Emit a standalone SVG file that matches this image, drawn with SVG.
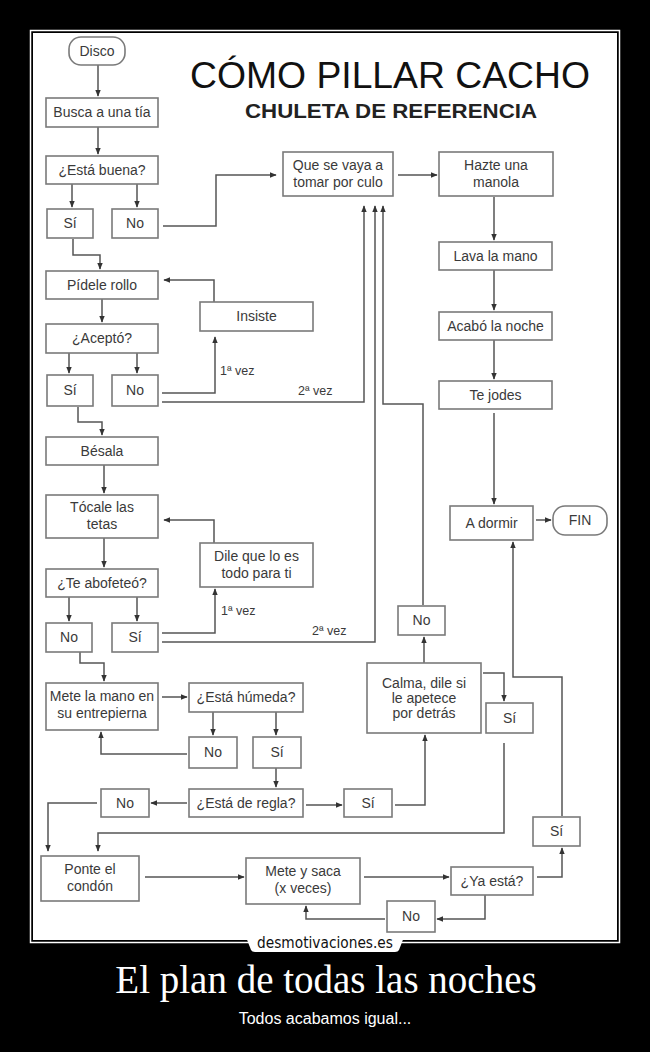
<svg xmlns="http://www.w3.org/2000/svg" width="650" height="1052" viewBox="0 0 650 1052">
<defs>
<style>
.box{fill:#fff;stroke:#7a7a7a;stroke-width:1.6}
.t{font-family:"Liberation Sans",Arial,sans-serif;font-size:14px;fill:#3a3a3a;text-anchor:middle}
.lb{font-family:"Liberation Sans",Arial,sans-serif;font-size:12.5px;fill:#3a3a3a}
.c{fill:none;stroke:#555;stroke-width:1.5}
</style>
<marker id="a" viewBox="0 0 10 10" refX="9" refY="5" markerWidth="7" markerHeight="7" orient="auto" markerUnits="userSpaceOnUse">
<path d="M0,1 L10,5 L0,9 z" fill="#333"/>
</marker>
</defs>
<rect x="0" y="0" width="650" height="1052" fill="#000"/>
<rect x="30.5" y="30.5" width="589" height="912" fill="none" stroke="#fff" stroke-width="1.5"/>
<rect x="33" y="33" width="584" height="907" fill="#fff"/>
<g id="title">
<text x="190" y="88" font-family="Liberation Sans, Arial, sans-serif" font-size="36" fill="#111" textLength="400" lengthAdjust="spacingAndGlyphs">CÓMO PILLAR CACHO</text>
<text x="245" y="118" font-family="Liberation Sans, Arial, sans-serif" font-size="20" font-weight="bold" fill="#222" textLength="292" lengthAdjust="spacingAndGlyphs">CHULETA DE REFERENCIA</text>
</g>
<g id="connectors">
<path class="c" marker-end="url(#a)" d="M98,65 V96"/>
<path class="c" marker-end="url(#a)" d="M98,127 V154"/>
<path class="c" marker-end="url(#a)" d="M72,184 V207"/>
<path class="c" marker-end="url(#a)" d="M137,184 V207"/>
<path class="c" marker-end="url(#a)" d="M163,226 H216 V175 H276"/>
<path class="c" marker-end="url(#a)" d="M73,239 V255 H100 V269"/>
<path class="c" marker-end="url(#a)" d="M102,299 V322"/>
<path class="c" marker-end="url(#a)" d="M214,302 V280 H164"/>
<path class="c" marker-end="url(#a)" d="M69,353 V373"/>
<path class="c" marker-end="url(#a)" d="M137,353 V373"/>
<path class="c" marker-end="url(#a)" d="M162,393 H215 V337"/>
<path class="c" marker-end="url(#a)" d="M162,402 H364 V206"/>
<path class="c" marker-end="url(#a)" d="M78,407 V422 H102 V435"/>
<path class="c" marker-end="url(#a)" d="M104,465 V493"/>
<path class="c" marker-end="url(#a)" d="M214,543 V520 H164"/>
<path class="c" marker-end="url(#a)" d="M104,538 V567"/>
<path class="c" marker-end="url(#a)" d="M69,597 V621"/>
<path class="c" marker-end="url(#a)" d="M137,597 V621"/>
<path class="c" marker-end="url(#a)" d="M162,633 H215 V589"/>
<path class="c" marker-end="url(#a)" d="M162,642 H375 V206"/>
<path class="c" marker-end="url(#a)" d="M80,652 V663 H104 V681"/>
<path class="c" marker-end="url(#a)" d="M162,697 H187"/>
<path class="c" marker-end="url(#a)" d="M213,712 V735"/>
<path class="c" marker-end="url(#a)" d="M276,712 V735"/>
<path class="c" marker-end="url(#a)" d="M187,754 H101 V732"/>
<path class="c" marker-end="url(#a)" d="M276,768 V787"/>
<path class="c" marker-end="url(#a)" d="M187,803 H151"/>
<path class="c" marker-end="url(#a)" d="M97,803 H48 V851"/>
<path class="c" marker-end="url(#a)" d="M306,805 H342"/>
<path class="c" marker-end="url(#a)" d="M395,805 H425 V735"/>
<path class="c" marker-end="url(#a)" d="M424,663 V637"/>
<path class="c" marker-end="url(#a)" d="M423,605 V404 H383 V206"/>
<path class="c" marker-end="url(#a)" d="M483,673 H504 V701"/>
<path class="c" marker-end="url(#a)" d="M504,743 V833 H98 V851"/>
<path class="c" marker-end="url(#a)" d="M145,877 H244"/>
<path class="c" marker-end="url(#a)" d="M364,877 H449"/>
<path class="c" marker-end="url(#a)" d="M537,877 H562 V848"/>
<path class="c" marker-end="url(#a)" d="M562,816 V677 H513 V542"/>
<path class="c" marker-end="url(#a)" d="M494,413 V504"/>
<path class="c" marker-end="url(#a)" d="M536,520 H551"/>
<path class="c" marker-end="url(#a)" d="M485,895 V919 H437"/>
<path class="c" marker-end="url(#a)" d="M385,919 H306 V906"/>
<path class="c" marker-end="url(#a)" d="M398,175 H437"/>
<path class="c" marker-end="url(#a)" d="M494,197 V240"/>
<path class="c" marker-end="url(#a)" d="M494,270 V310"/>
<path class="c" marker-end="url(#a)" d="M494,340 V379"/>
</g>
<g id="labels">
<text class="lb" x="220" y="375">1ª vez</text>
<text class="lb" x="298" y="395">2ª vez</text>
<text class="lb" x="221" y="615">1ª vez</text>
<text class="lb" x="312" y="635">2ª vez</text>
</g>
<g id="disco"><rect class="box" x="69" y="37" width="56" height="28" rx="12"/><text class="t" x="97" y="56">Disco</text></g>
<g id="busca"><rect class="box" x="46" y="98" width="112" height="29"/><text class="t" x="102" y="117">Busca a una tía</text></g>
<g id="esta-buena"><rect class="box" x="46" y="156" width="112" height="28"/><text class="t" x="102" y="175">¿Está buena?</text></g>
<g id="si1"><rect class="box" x="47" y="209" width="46" height="29"/><text class="t" x="70" y="228">Sí</text></g>
<g id="no1"><rect class="box" x="112" y="209" width="46" height="29"/><text class="t" x="135" y="228">No</text></g>
<g id="que"><rect class="box" x="283" y="152" width="110" height="44"/><text class="t" x="338" y="170">Que se vaya a</text><text class="t" x="338" y="187">tomar por culo</text></g>
<g id="hazte"><rect class="box" x="439" y="152" width="114" height="44"/><text class="t" x="496" y="170">Hazte una</text><text class="t" x="496" y="187">manola</text></g>
<g id="lava"><rect class="box" x="439" y="242" width="113" height="28"/><text class="t" x="495.5" y="261">Lava la mano</text></g>
<g id="acabo"><rect class="box" x="439" y="312" width="113" height="28"/><text class="t" x="495.5" y="331">Acabó la noche</text></g>
<g id="tejodes"><rect class="box" x="439" y="381" width="113" height="28"/><text class="t" x="495.5" y="400">Te jodes</text></g>
<g id="pidele"><rect class="box" x="46" y="271" width="112" height="28"/><text class="t" x="102" y="290">Pídele rollo</text></g>
<g id="insiste"><rect class="box" x="200" y="302" width="113" height="29"/><text class="t" x="256.5" y="321">Insiste</text></g>
<g id="acepto"><rect class="box" x="46" y="324" width="112" height="29"/><text class="t" x="102" y="343">¿Aceptó?</text></g>
<g id="si2"><rect class="box" x="47" y="375" width="46" height="31"/><text class="t" x="70" y="395">Sí</text></g>
<g id="no2"><rect class="box" x="112" y="375" width="46" height="31"/><text class="t" x="135" y="395">No</text></g>
<g id="besala"><rect class="box" x="46" y="437" width="112" height="28"/><text class="t" x="102" y="456">Bésala</text></g>
<g id="tocale"><rect class="box" x="46" y="495" width="112" height="43"/><text class="t" x="102" y="512">Tócale las</text><text class="t" x="102" y="529">tetas</text></g>
<g id="dile"><rect class="box" x="200" y="543" width="113" height="44"/><text class="t" x="256.5" y="561">Dile que lo es</text><text class="t" x="256.5" y="578">todo para ti</text></g>
<g id="abofeteo"><rect class="box" x="46" y="569" width="112" height="28"/><text class="t" x="102" y="588">¿Te abofeteó?</text></g>
<g id="no3"><rect class="box" x="46" y="623" width="46" height="29"/><text class="t" x="69" y="642">No</text></g>
<g id="si3"><rect class="box" x="112" y="623" width="46" height="29"/><text class="t" x="135" y="642">Sí</text></g>
<g id="mete"><rect class="box" x="46" y="683" width="112" height="47"/><text class="t" x="102" y="701">Mete la mano en</text><text class="t" x="102" y="718">su entrepierna</text></g>
<g id="humeda"><rect class="box" x="189" y="683" width="114" height="29"/><text class="t" x="246" y="702">¿Está húmeda?</text></g>
<g id="no4"><rect class="box" x="189" y="737" width="48" height="31"/><text class="t" x="213" y="757">No</text></g>
<g id="si4"><rect class="box" x="253" y="737" width="48" height="31"/><text class="t" x="277" y="757">Sí</text></g>
<g id="regla"><rect class="box" x="189" y="789" width="114" height="28"/><text class="t" x="246" y="808">¿Está de regla?</text></g>
<g id="no5"><rect class="box" x="101" y="789" width="48" height="28"/><text class="t" x="125" y="808">No</text></g>
<g id="si5"><rect class="box" x="344" y="789" width="48" height="28"/><text class="t" x="368" y="808">Sí</text></g>
<g id="calma"><rect class="box" x="367" y="663" width="114" height="70"/><text class="t" x="424" y="688">Calma, dile si</text><text class="t" x="424" y="703">le apetece</text><text class="t" x="424" y="718">por detrás</text></g>
<g id="no6"><rect class="box" x="398" y="606" width="47" height="29"/><text class="t" x="421.5" y="625">No</text></g>
<g id="si6"><rect class="box" x="486" y="703" width="47" height="30"/><text class="t" x="509.5" y="723">Sí</text></g>
<g id="si7"><rect class="box" x="533" y="817" width="47" height="29"/><text class="t" x="556.5" y="836">Sí</text></g>
<g id="adormir"><rect class="box" x="450" y="506" width="83" height="34"/><text class="t" x="491.5" y="528">A dormir</text></g>
<g id="fin"><rect class="box" x="553" y="506" width="54" height="29" rx="12"/><text class="t" x="580" y="525">FIN</text></g>
<g id="ponte"><rect class="box" x="41" y="856" width="98" height="45"/><text class="t" x="90" y="874">Ponte el</text><text class="t" x="90" y="891">condón</text></g>
<g id="metesaca"><rect class="box" x="246" y="858" width="114" height="46"/><text class="t" x="303" y="876">Mete y saca</text><text class="t" x="303" y="893">(x veces)</text></g>
<g id="yaesta"><rect class="box" x="451" y="867" width="82" height="28"/><text class="t" x="492" y="886">¿Ya está?</text></g>
<g id="no7"><rect class="box" x="387" y="901" width="48" height="31"/><text class="t" x="411" y="921">No</text></g>
<g id="footer">
<path d="M246,937 H404 L399,950 Q398,952 395,952 H255 Q252,952 251,950 Z" fill="#fff"/>
<text x="325" y="948" text-anchor="middle" font-family="DejaVu Sans, sans-serif" font-size="15" fill="#111" textLength="136" lengthAdjust="spacingAndGlyphs">desmotivaciones.es</text>
<text x="326" y="993" text-anchor="middle" font-family="Liberation Serif, Times New Roman, serif" font-size="39" fill="#fff">El plan de todas las noches</text>
<text x="325" y="1024" text-anchor="middle" font-family="Liberation Sans, Arial, sans-serif" font-size="16" fill="#fff">Todos acabamos igual...</text>
</g>
</svg>
